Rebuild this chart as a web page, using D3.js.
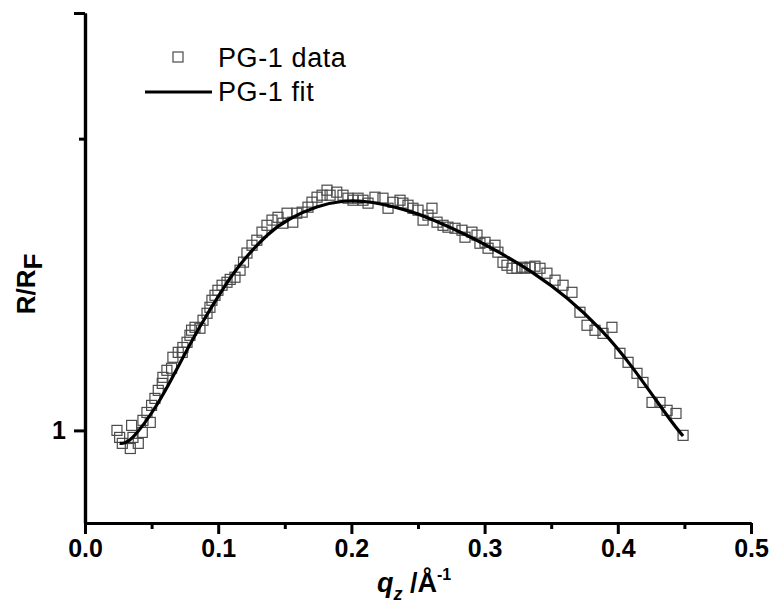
<!DOCTYPE html>
<html>
<head>
<meta charset="utf-8">
<script src="https://cdn.jsdelivr.net/npm/d3@7"></script>
<style>
  body { margin: 0; background: #fff; }
  text { font-family: "Liberation Sans", Arial, sans-serif; }
</style>
</head>
<body>
<svg id="chart" width="771" height="608"></svg>
<script>
// measured data: q_z (1/Å) and R/RF
const dataQ = [0.024, 0.026, 0.028, 0.034, 0.035, 0.036, 0.040, 0.043, 0.0435, 0.0465,
  0.049, 0.050, 0.0525, 0.055, 0.058, 0.0585, 0.0615, 0.065, 0.066, 0.070,
  0.073, 0.0735, 0.0766, 0.0788, 0.080, 0.0826, 0.0863, 0.0886, 0.0916, 0.0938,
  0.0953, 0.0976, 0.0998, 0.1029, 0.1066, 0.109, 0.1126, 0.1164, 0.119, 0.1216,
  0.1254, 0.129, 0.1329, 0.1366, 0.1404, 0.1449, 0.1486, 0.1517, 0.156, 0.159,
  0.163, 0.1674, 0.1704, 0.1742, 0.178, 0.1817, 0.184, 0.189, 0.1937, 0.1974,
  0.2012, 0.205, 0.2087, 0.2125, 0.2177, 0.2237, 0.2275, 0.2312, 0.2365, 0.2387,
  0.2425, 0.2462, 0.250, 0.2538, 0.2575, 0.2605, 0.2643, 0.2688, 0.2725, 0.2778,
  0.283, 0.2853, 0.2905, 0.2943, 0.2965, 0.3003, 0.3026, 0.3078, 0.310, 0.3138,
  0.3168, 0.3206, 0.3243, 0.3281, 0.3303, 0.3341, 0.3378, 0.3416, 0.3468, 0.3529,
  0.3589, 0.3656, 0.3716, 0.3769, 0.3829, 0.3889, 0.3956, 0.4016, 0.4077, 0.4144,
  0.4189, 0.4257, 0.4317, 0.437, 0.4437, 0.449];
const dataR = [1.00, 0.962, 0.931, 0.905, 1.028, 0.962, 0.931, 0.989, 1.057, 1.104,
  1.045, 1.148, 1.193, 1.247, 1.296, 1.34, 1.393, 1.409, 1.497, 1.538,
  1.538, 1.58, 1.626, 1.69, 1.738, 1.766, 1.757, 1.836, 1.908, 1.972,
  2.05, 2.107, 2.166, 2.227, 2.264, 2.30, 2.328, 2.42, 2.53, 2.66,
  2.777, 2.855, 2.985, 3.10, 3.19, 3.24, 3.136, 3.314, 3.154, 3.314,
  3.333, 3.426, 3.522, 3.62, 3.66, 3.763, 3.66, 3.722, 3.66, 3.60,
  3.56, 3.60, 3.56, 3.503, 3.62, 3.60, 3.406, 3.52, 3.56, 3.503,
  3.463, 3.406, 3.37, 3.19, 3.278, 3.406, 3.154, 3.10, 3.068, 3.05,
  3.017, 2.903, 2.985, 2.936, 2.808, 2.823, 2.732, 2.777, 2.673, 2.528,
  2.487, 2.446, 2.446, 2.46, 2.446, 2.46, 2.474, 2.446, 2.38, 2.29,
  2.227, 2.142, 1.919, 1.786, 1.737, 1.708, 1.766, 1.53, 1.456, 1.37,
  1.303, 1.167, 1.167, 1.117, 1.098, 0.973];

// fit curve
const fitQ = [0.026, 0.036, 0.054, 0.069, 0.086, 0.104, 0.119, 0.137, 0.154, 0.174,
  0.194, 0.216, 0.242, 0.261, 0.287, 0.312, 0.336, 0.362, 0.387, 0.411, 0.437, 0.449];
const fitR = [0.931, 0.964, 1.152, 1.403, 1.766, 2.193, 2.553, 2.938, 3.214, 3.428,
  3.54, 3.516, 3.362, 3.197, 2.931, 2.658, 2.387, 2.073, 1.745, 1.414, 1.086, 0.97];

const xMajor = [0, 0.1, 0.2, 0.3, 0.4, 0.5];
const xMinor = [0.05, 0.15, 0.25, 0.35, 0.45];
const yMajor = [1, 10];
const yMinor = [5];

const svg = d3.select("#chart");

const x = d3.scaleLinear().domain([0, 0.5]).range([85, 751]);
const y = d3.scaleLog().domain([0.6, 10]).range([523, 13]);

const points = dataQ.map((q, i) => ({ q, r: dataR[i] }));
const fit = fitQ.map((q, i) => ({ q, r: fitR[i] }));

// data squares
const sq = 10;
svg.append("g")
  .selectAll("rect")
  .data(points)
  .enter()
  .append("rect")
  .attr("x", d => x(d.q) - sq / 2)
  .attr("y", d => y(d.r) - sq / 2)
  .attr("width", sq)
  .attr("height", sq)
  .attr("fill", "none")
  .attr("stroke", "#4a4a4a")
  .attr("stroke-width", 1.2);

// fit line
const line = d3.line()
  .x(d => x(d.q))
  .y(d => y(d.r))
  .curve(d3.curveNatural);

svg.append("path")
  .datum(fit)
  .attr("d", line)
  .attr("fill", "none")
  .attr("stroke", "#000")
  .attr("stroke-width", 3.2);

// axes
function styleAxis(g) {
  g.select(".domain").attr("stroke-width", 3.2);
  g.selectAll(".tick line").attr("stroke-width", 3);
  g.selectAll("text")
    .style("font-size", "25px")
    .style("font-weight", "bold")
    .attr("fill", "#000");
}

svg.append("g")
  .attr("transform", "translate(0,523)")
  .call(d3.axisBottom(x).tickValues(xMinor).tickSize(6).tickSizeOuter(0).tickFormat(""))
  .call(styleAxis);

svg.append("g")
  .attr("transform", "translate(0,523)")
  .call(d3.axisBottom(x).tickValues(xMajor).tickSize(11).tickSizeOuter(0)
    .tickPadding(5).tickFormat(d3.format(".1f")))
  .call(styleAxis);

svg.append("g")
  .attr("transform", "translate(85,0)")
  .call(d3.axisLeft(y).tickValues(yMinor).tickSize(6).tickSizeOuter(0).tickFormat(""))
  .call(styleAxis);

svg.append("g")
  .attr("transform", "translate(85,0)")
  .call(d3.axisLeft(y).tickValues(yMajor).tickSize(11).tickSizeOuter(0)
    .tickPadding(8).tickFormat(d => d === 1 ? "1" : ""))
  .call(styleAxis);

// axis titles
const xt = svg.append("text")
  .attr("x", 414)
  .attr("y", 592)
  .attr("text-anchor", "middle")
  .style("font-size", "27px")
  .style("font-weight", "bold");
xt.append("tspan").style("font-style", "italic").text("q");
xt.append("tspan").style("font-style", "italic").style("font-size", "18px").attr("dy", 8).text("z");
xt.append("tspan").attr("dy", -8).text(" /Å");
xt.append("tspan").style("font-size", "16px").attr("dy", -12).text("-1");

const yt = svg.append("text")
  .attr("transform", "translate(35,284) rotate(-90)")
  .attr("text-anchor", "middle")
  .style("font-size", "26px")
  .style("font-weight", "bold");
yt.append("tspan").text("R/R");
yt.append("tspan").attr("dy", 7).text("F");

// legend
const lg = svg.append("g");
lg.append("rect")
  .attr("x", 178 - sq / 2).attr("y", 57 - sq / 2)
  .attr("width", sq).attr("height", sq)
  .attr("fill", "none").attr("stroke", "#4a4a4a").attr("stroke-width", 1.2);
lg.append("text").attr("x", 218).attr("y", 67)
  .style("font-size", "27px").style("letter-spacing", "0.6px").text("PG-1 data");
lg.append("line")
  .attr("x1", 145).attr("x2", 212).attr("y1", 92).attr("y2", 92)
  .attr("stroke", "#000").attr("stroke-width", 3.2);
lg.append("text").attr("x", 218).attr("y", 101)
  .style("font-size", "27px").style("letter-spacing", "0.6px").text("PG-1 fit");
</script>
</body>
</html>
